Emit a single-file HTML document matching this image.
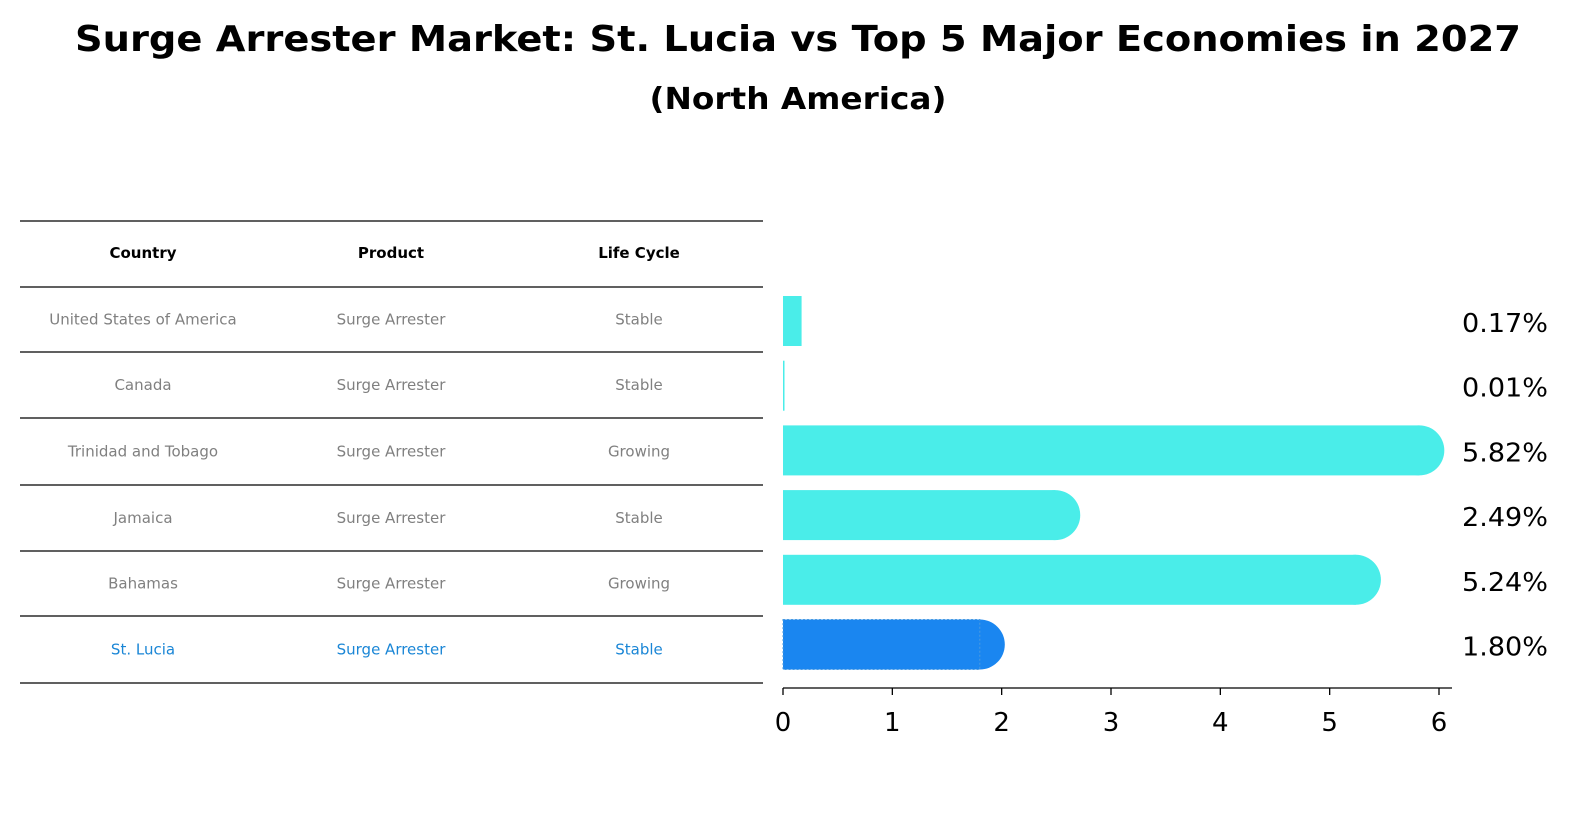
<!DOCTYPE html>
<html><head><meta charset="utf-8"><style>
body{margin:0;background:#fff;width:1586px;height:823px;overflow:hidden;font-family:"DejaVu Sans","Liberation Sans",sans-serif}
</style></head><body>
<svg width="1586" height="823" xmlns="http://www.w3.org/2000/svg" font-family="DejaVu Sans, Liberation Sans, sans-serif">
<text x="798" y="51" text-anchor="middle" font-size="36" font-weight="bold" textLength="1446" lengthAdjust="spacingAndGlyphs">Surge Arrester Market: St. Lucia vs Top 5 Major Economies in 2027</text>
<text x="798" y="109" text-anchor="middle" font-size="30" font-weight="bold" textLength="297" lengthAdjust="spacingAndGlyphs">(North America)</text>
<g id="table"></g>
<g id="bars"></g>
</svg>
<script>
const countries=["United States of America","Canada","Trinidad and Tobago","Jamaica","Bahamas","St. Lucia"];
const products=["Surge Arrester","Surge Arrester","Surge Arrester","Surge Arrester","Surge Arrester","Surge Arrester"];
const lifecycle=["Stable","Stable","Growing","Stable","Growing","Stable"];
const values=[0.17,0.01,5.82,2.49,5.24,1.80];
const ticks=[0,1,2,3,4,5,6];
const NS="http://www.w3.org/2000/svg";
function mk(t,a,p){const e=document.createElementNS(NS,t);for(const k in a)e.setAttribute(k,a[k]);p.appendChild(e);return e;}
const tb=document.getElementById('table');
const lineYs=[221,287,352,418,485,551,616,683];
lineYs.forEach(y=>{const l=mk('line',{x1:20,x2:763,y1:y,y2:y,stroke:'#000','stroke-width':1.2},tb);

});
const cx=[143,391,639];
["Country","Product","Life Cycle"].forEach((h,i)=>{const t=mk('text',{x:cx[i],y:258,'text-anchor':'middle','font-size':15,'font-weight':'bold'},tb);t.textContent=h;

});
countries.forEach((c,r)=>{const y=(lineYs[r+1]+lineYs[r+2])/2+5;const col=r===countries.length-1?'#1a86d6':'#808080';
[c,products[r],lifecycle[r]].forEach((v,i)=>{const t=mk('text',{x:cx[i],y:y,'text-anchor':'middle','font-size':15,fill:col},tb);t.textContent=v;

});});
const bg=document.getElementById('bars');
const x0=783,xs=(1439-783)/6;
const X=v=>x0+v*xs;
const rowY=r=>321+r*64.7;
const bh=50;
values.forEach((v,r)=>{const y=rowY(r);const last=r===values.length-1;const col=last?'#1a86f0':'#4aede9';
const g=mk('g',{},bg);


const w=Math.max(X(v)-x0,1.5);
mk('rect',{x:x0,y:y-bh/2,width:w,height:bh,fill:col},g);
if(v>1)mk('circle',{cx:X(v),cy:y,r:bh/2,fill:col},g);
if(last)mk('rect',{x:x0,y:y-bh/2,width:w,height:bh,fill:'none',stroke:'#4a9be0','stroke-dasharray':'2,2','stroke-width':1},g);
const t=mk('text',{x:1505,y:y+11,'text-anchor':'middle','font-size':26,textLength:86,lengthAdjust:'spacingAndGlyphs'},bg);t.textContent=v.toFixed(2)+'%';

});
const ax=mk('line',{x1:x0,x2:1452,y1:688,y2:688,stroke:'#000','stroke-width':1.3},bg);


ticks.forEach(v=>{mk('line',{x1:X(v),x2:X(v),y1:688,y2:695,stroke:'#000','stroke-width':1.3},bg);
const t=mk('text',{x:X(v),y:731,'text-anchor':'middle','font-size':26},bg);t.textContent=v;

});
</script>
</body></html>
